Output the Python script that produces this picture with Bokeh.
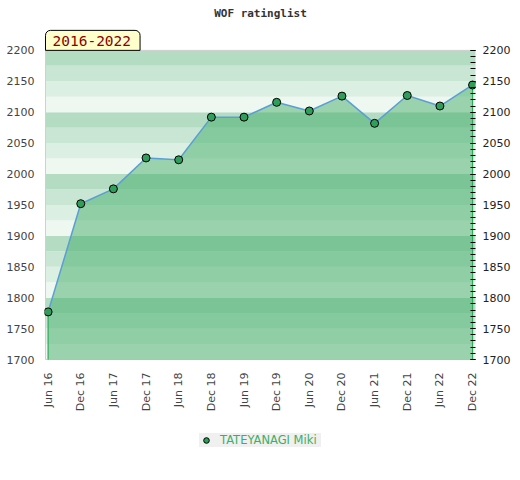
import math
from bokeh.plotting import figure
from bokeh.layouts import column
from bokeh.models import Range1d, FixedTicker, LinearAxis, Label, Legend, LegendItem, ColumnDataSource
from bokeh.embed import file_html
from bokeh.resources import INLINE

# ---- data ----
periods = ["Jun 16", "Dec 16", "Jun 17", "Dec 17", "Jun 18", "Dec 18", "Jun 19",
           "Dec 19", "Jun 20", "Dec 20", "Jun 21", "Dec 21", "Jun 22", "Dec 22"]
ratings = [1777, 1952, 1976, 2026, 2023, 2092, 2092, 2116, 2102, 2126, 2082, 2127, 2110, 2144]
y_ticks = list(range(1700, 2201, 50))
y_minor = list(range(1700, 2201, 10))
player = "TATEYANAGI Miki"
title_text = "WOF ratinglist"
span_text = "2016-2022"

Y0, Y1 = 1700, 2200          # visible rating band
XL, XR = -0.08, 13.09        # visible plot box in x
PX = 0.62                    # pixels per rating point (for layout margins)
idx = list(range(len(periods)))

p = figure(width=513, height=420,
           x_range=Range1d(XL - 1 / 33.0, XR),
           y_range=Range1d(Y0 - 1 / PX, Y1 + 50 / PX),
           output_backend="svg", toolbar_location=None,
           min_border_left=44, min_border_right=37, min_border_top=0, min_border_bottom=60)
p.background_fill_color = "white"
p.border_fill_color = "white"
p.outline_line_color = None
p.xgrid.visible = False
p.ygrid.visible = False

# background bands (styling)
band_colors = ["#eff7f1", "#dcefe3", "#c8e6d3", "#b3dcc2"]
b_bottom, b_top, b_col = [], [], []
v = Y0
k = 0
while v < Y1:
    b_bottom.append(v)
    b_top.append(v + 25)
    b_col.append(band_colors[k % 4])
    v += 25
    k += 1
p.quad(left=XL, right=XR + 1, bottom=b_bottom, top=b_top, fill_color=b_col, line_color=None)

# plot box border (light gray, top / left / bottom)
p.segment(x0=[XL, XL, XL], y0=[Y1, Y0, Y0], x1=[XR + 1, XL, XR + 1], y1=[Y1, Y1, Y0],
          line_color="#d0d0d0", line_width=1)

# area
src = ColumnDataSource(dict(x=idx, y=ratings, lab=periods))
p.varea(x="x", y1=Y0, y2="y", source=src, fill_color="#3daa64", fill_alpha=0.48)
p.segment(x0=[idx[0], idx[-1]], y0=[Y0, Y0], x1=[idx[0], idx[-1]], y1=[ratings[0], ratings[-1]],
          line_color="#2ea85a", line_width=1.2)
p.line(x="x", y="y", source=src, line_color="#5a9fd4", line_width=1.5)
pts = p.scatter(x="x", y="y", source=src, size=8, fill_color="#2f9e5a", line_color="black", line_width=1)

# axes
p.yaxis.ticker = FixedTicker(ticks=y_ticks, minor_ticks=[])
p.yaxis.axis_line_color = None
p.yaxis.major_tick_line_color = None
p.yaxis.minor_tick_line_color = None
p.yaxis.major_tick_out = 0
p.yaxis.major_label_standoff = 10
p.yaxis.major_label_text_font = "DejaVu Sans"
p.yaxis.major_label_text_font_size = "11px"
p.yaxis.major_label_text_color = "#444444"

p.xaxis.ticker = FixedTicker(ticks=idx, minor_ticks=[])
p.xaxis.major_label_overrides = {i: s for i, s in zip(idx, periods)}
p.xaxis.major_label_orientation = math.pi / 2
p.xaxis.axis_line_color = None
p.xaxis.major_tick_line_color = None
p.xaxis.minor_tick_line_color = None
p.xaxis.major_tick_out = 0
p.xaxis.major_label_standoff = 12
p.xaxis.major_label_text_font = "DejaVu Sans"
p.xaxis.major_label_text_font_size = "11px"
p.xaxis.major_label_text_color = "#444444"

ra = LinearAxis(ticker=FixedTicker(ticks=y_ticks, minor_ticks=y_minor))
ra.axis_line_color = None
ra.major_tick_in = 5
ra.major_tick_out = 0
ra.minor_tick_in = 5
ra.minor_tick_out = 0
ra.major_tick_line_color = "black"
ra.minor_tick_line_color = "black"
ra.major_label_standoff = 7
ra.major_label_text_font = "DejaVu Sans"
ra.major_label_text_font_size = "11px"
ra.major_label_text_color = "#222222"
p.add_layout(ra, "right")

# title (inside the extended frame, above the plot box)
p.add_layout(Label(x=(XL + XR) / 2, y=Y1 + 37 / PX, text=title_text,
                   text_align="center", text_baseline="middle",
                   text_font="DejaVu Sans Mono", text_font_size="11px",
                   text_font_style="bold", text_color="#333333"))

# span label box
p.add_layout(Label(x=XL, y=Y1, text=span_text, anchor="bottom_left",
                   text_font="DejaVu Sans Mono", text_font_size="14.5px", text_color="#8b0000",
                   background_fill_color="#ffffcc", border_line_color="black", border_line_width=1,
                   padding=dict(left=7, right=9, top=6, bottom=4),
                   border_radius=dict(top_left=5, top_right=5, bottom_right=0, bottom_left=0)))

# legend in its own strip below
p2 = figure(width=513, height=50, x_range=Range1d(0, 1), y_range=Range1d(0, 1),
            x_axis_location=None, y_axis_location=None,
            output_backend="svg", toolbar_location=None, min_border=0)
p2.grid.visible = False
p2.outline_line_color = None
p2.background_fill_color = "white"
p2.border_fill_color = "white"
leg_r = p2.scatter(x=[-10], y=[-10], size=8, fill_color="#2f9e5a", line_color="black", line_width=1)
legend = Legend(items=[LegendItem(label=player, renderers=[leg_r])], location=(155, 23),
                orientation="horizontal",
                background_fill_color="#f0f0f0", background_fill_alpha=1,
                border_line_color=None, padding=4, margin=0, spacing=0,
                glyph_width=14, glyph_height=14, label_height=14, label_width=101, label_standoff=7,
                label_text_font="DejaVu Sans", label_text_font_size="11.5px",
                label_text_color="#3cae65")
p2.add_layout(legend)

layout = column(p, p2, spacing=0)
open("out.html", "w").write(file_html(layout, INLINE))
